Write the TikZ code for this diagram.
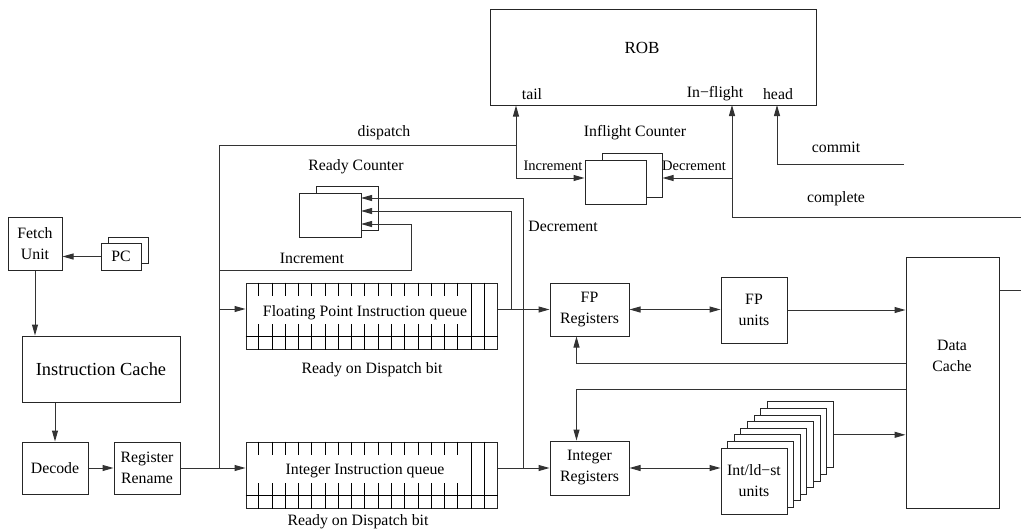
\documentclass[tikz,border=0pt]{standalone}
\usepackage{fontspec}
\setmainfont{Liberation Serif}
\usetikzlibrary{arrows.meta,calc}
\begin{document}
\begin{tikzpicture}[x=1pt,y=-1pt,
  every node/.style={font=\fontsize{15.8}{21}\selectfont, inner sep=0pt},
  box/.style={draw=black!85, line width=1pt, fill=white, align=center},
  ln/.style={line width=1pt, draw=black!80},
  arr/.style={ln, -{Triangle[length=11pt,width=6pt]}},
  darr/.style={ln, {Triangle[length=11pt,width=6pt]}-{Triangle[length=11pt,width=6pt]}},
  tick/.style={line width=0.8pt, draw=black},
  small/.style={font=\fontsize{14.5}{18}\selectfont},
]
\useasboundingbox (0,0) rectangle (1021,531);

% ---------- left column ----------
\node[box, minimum width=54pt, minimum height=53pt] (fetch) at (35,243.5) {Fetch\\Unit};
\node[box, minimum width=40pt, minimum height=26pt] (pcback) at (128,250) {};
\node[box, minimum width=40pt, minimum height=27pt] (pc) at (121,256.5) {PC};
\node[box, minimum width=158pt, minimum height=66pt, font=\fontsize{18.4}{22}\selectfont] (ic) at (101,369) {Instruction Cache};
\node[box, minimum width=66pt, minimum height=52pt] (decode) at (55,468) {Decode};
\node[box, minimum width=66pt, minimum height=52pt] (rename) at (147,468) {Register\\Rename};

\draw[arr] (pc.west) -- (pc.west -| fetch.east);
\draw[arr] (fetch.south) -- (fetch.south |- ic.north);
\draw[arr] (ic.south -| decode.north) -- (decode.north);
\draw[arr] (decode.east) -- (rename.west);

% ---------- queues ----------
\node[box, minimum width=251pt, minimum height=66pt] (fpq) at (371.5,316) {};
\node[box, minimum width=251pt, minimum height=66pt] (intq) at (371.5,475) {};
\foreach \q in {fpq,intq}{
  \foreach \k in {1,...,16}{
    \draw[tick] ($(\q.north west)!\k/19!(\q.north east)$) -- ++(0,13);
    \draw[tick] ($(\q.south west)!\k/19!(\q.south east)$) -- ++(0,-26);
  }
  \foreach \k in {17,18}{
    \draw[tick] ($(\q.north west)!\k/19!(\q.north east)$) -- ($(\q.south west)!\k/19!(\q.south east)$);
  }
  \draw[tick] ($(\q.south west)+(0,-13)$) -- ($(\q.south east)+(0,-13)$);
}
\node (fpqt) at (365,313) {Floating Point Instruction queue};
\node (intqt) at (365,471) {Integer Instruction queue};
\node (fprdy) at (372,370) {Ready on Dispatch bit};
\node (intrdy) at (358,522) {Ready on Dispatch bit};

% dispatch bus
\coordinate (dtop) at (219,145);
\coordinate (dbot) at (219,468);
\coordinate (fpin) at (219,309);
\coordinate (incL) at (219,270);
\draw[ln] (dtop) -- (dbot);
\draw[arr] (rename.east) -- (rename.east -| intq.west);
\draw[arr] (fpin) -- (fpin -| fpq.west);

% ---------- ROB ----------
\node[box, minimum width=326pt, minimum height=96pt] (rob) at (653,57) {};
\node[font=\fontsize{17}{20}\selectfont] (robt) at (642,48) {ROB};
\node (tailt) at (532,94) {tail};
\node (inflt) at (715,94) {In−flight};
\node (headt) at (778,94) {head};

\coordinate (tailj) at (516,145);
\coordinate (incj) at (516,178);
\coordinate (infp) at (732,105);
\coordinate (infj) at (732,178);
\coordinate (cmpl) at (1021,217);
\coordinate (headp) at (777,105);
\coordinate (cmt) at (904,164);

\node (dispt) at (384,133) {dispatch};
\draw[ln] (dtop) -- (tailj);
\draw[arr] (tailj) -- (tailj |- rob.south);

% inflight counter
\node (ifct) at (635,133) {Inflight Counter};
\node[box, minimum width=60pt, minimum height=44pt] (ifcback) at (632,175) {};
\node[box, minimum width=61pt, minimum height=44pt] (ifc) at (615.5,182) {};
\draw[arr] (tailj) -- (incj) -- (incj -| ifc.west);
\node[small] (ifinc) at (553,166) {Increment};
\node[small] (ifdec) at (694,166) {Decrement};
\draw[arr] (infj) -- (infj -| ifcback.east);
\draw[arr] (cmpl) -| (infp);
\draw[arr] (cmt) -| (headp);
\node (cmtt) at (836,147) {commit};
\node (cmplt) at (836,199) {complete};

% ---------- ready counter ----------
\node (rct) at (356,167) {Ready Counter};
\node[box, minimum width=62pt, minimum height=44pt] (rcback) at (347,208) {};
\node[box, minimum width=62pt, minimum height=44pt] (rc) at (330,215) {};
\coordinate (rc1) at (361,198);
\coordinate (rc2) at (361,211);
\coordinate (rc3) at (361,224);
\coordinate (incR) at (411,224);
\draw[arr] (incL) -| (incR) -- (rc3);
\node (rcinc) at (312,258) {Increment};
\node (rcdec) at (563,226) {Decrement};

% ---------- right side ----------
\node[box, minimum width=79pt, minimum height=53pt] (fpreg) at (589.5,309.5) {FP\\Registers};
\node[box, minimum width=66pt, minimum height=66pt] (fpu) at (754,310) {FP\\units};
\node[box, minimum width=93pt, minimum height=251pt] (dc) at (952.5,382.5) {};
\node[align=center] (dct) at (952,356) {Data\\Cache};
\node[box, minimum width=79pt, minimum height=54pt] (intreg) at (589.5,468) {Integer\\Registers};
\foreach \k in {7,6,...,1}{
  \node[box, minimum width=66pt, minimum height=66pt] (intu\k) at ({754+6.6*\k},{481-6.6*\k}) {};
}
\node[box, minimum width=66pt, minimum height=66pt] (intu) at (754,481) {Int/ld−st\\units};

\coordinate (fpo) at (511,309.5);
\coordinate (into) at (523,468);
\draw[arr] (fpq.east |- fpreg.west) -- (fpreg.west);
\draw[arr] (intq.east |- intreg.west) -- (intreg.west);
\draw[arr] (fpo) |- (rc2);
\draw[arr] (into) |- (rc1);

\draw[darr] (fpreg.east) -- (fpreg.east -| fpu.west);
\draw[arr] (fpu.east) -- (fpu.east -| dc.west);
\draw[darr] (intreg.east) -- (intreg.east -| intu.west);
\draw[arr] (intu7.east) -- (intu7.east -| dc.west);

\coordinate (dcf) at (906,363);
\coordinate (dci) at (906,389);
\coordinate (dcr) at (1021,290);
\draw[arr] (dcf) -| ($(fpreg.south west)+(27,0)$);
\draw[arr] (dci) -| ($(intreg.north west)+(27,0)$);
\draw[ln] (dcr -| dc.east) -- (dcr);
\end{tikzpicture}
\end{document}
